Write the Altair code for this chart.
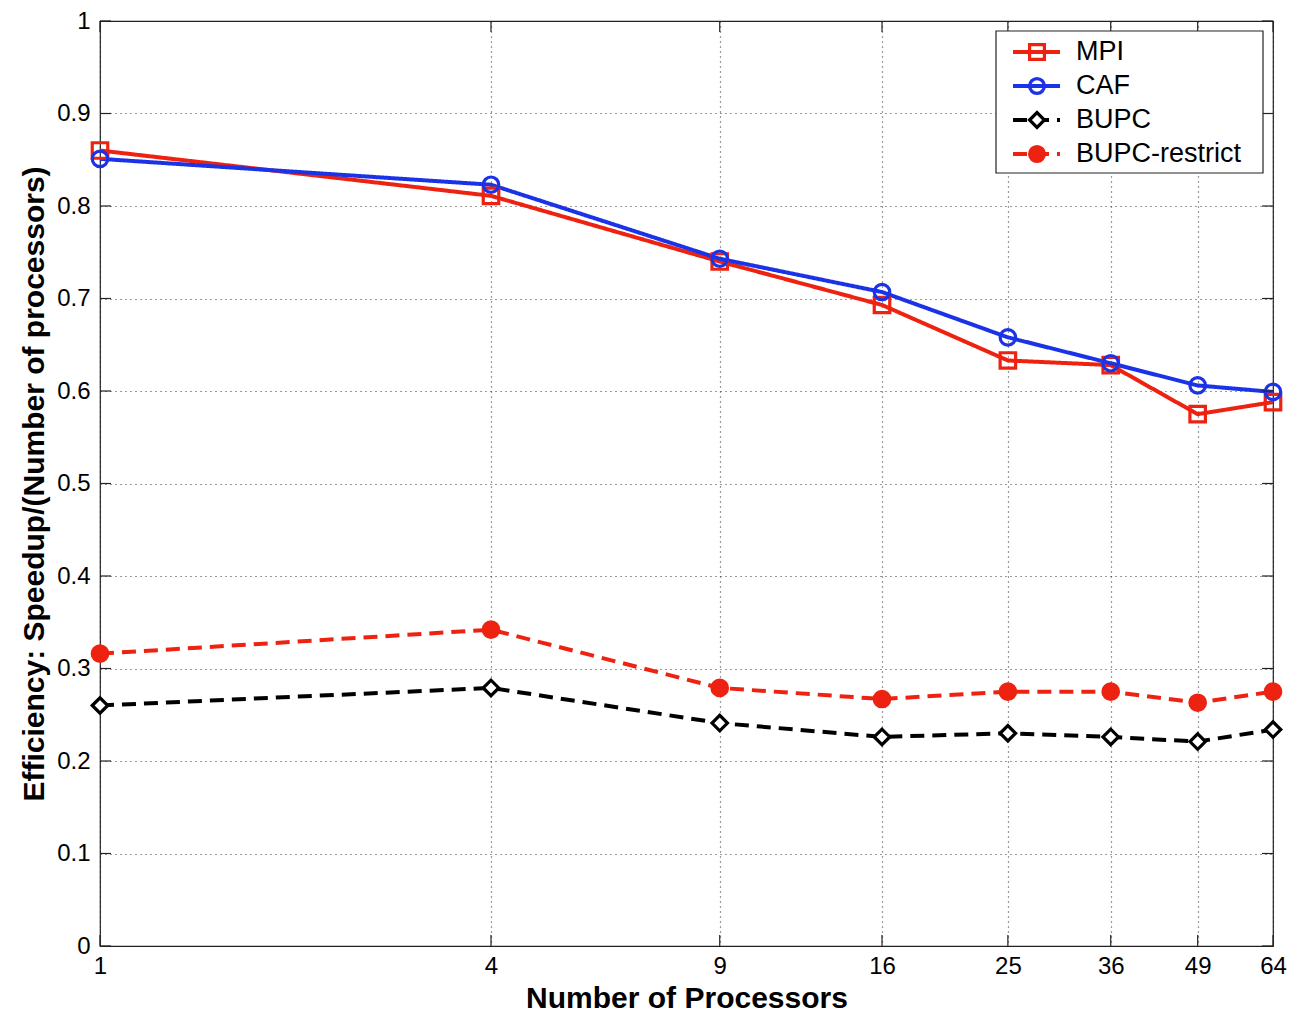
import altair as alt
import pandas as pd

# ---- data ----
procs = [1, 4, 9, 16, 25, 36, 49, 64]
mpi = [0.860, 0.811, 0.740, 0.693, 0.633, 0.628, 0.575, 0.588]
caf = [0.851, 0.823, 0.743, 0.707, 0.658, 0.630, 0.606, 0.599]
bupc = [0.260, 0.279, 0.241, 0.226, 0.230, 0.226, 0.221, 0.234]
bupc_restrict = [0.316, 0.342, 0.279, 0.267, 0.275, 0.275, 0.263, 0.275]

series_names = ["MPI", "CAF", "BUPC", "BUPC-restrict"]
series_values = [mpi, caf, bupc, bupc_restrict]

x_ticks = [1, 4, 9, 16, 25, 36, 49, 64]
y_ticks = [0.0, 0.1, 0.2, 0.3, 0.4, 0.5, 0.6, 0.7, 0.8, 0.9, 1.0]

x_title = "Number of Processors"
y_title = "Efficiency: Speedup/(Number of processors)"

# ---- styles ----
RED = "#ee2211"
BLUE = "#1a33e6"
BLACK = "#000000"
series_colors = [RED, BLUE, BLACK, RED]
series_dashes = [[1, 0], [1, 0], [14, 8], [14, 8]]
series_shapes = ["square", "circle", "diamond", "circle"]
series_fills = ["transparent", "transparent", "white", RED]
FONT = "Liberation Sans"

W, H = 1173, 925

rows = []
for name, vals in zip(series_names, series_values):
    for p, v in zip(procs, vals):
        rows.append({"procs": p, "eff": v, "series": name})
df = pd.DataFrame(rows)

xscale = alt.Scale(type="log", domain=[1, 64], nice=False)
yscale = alt.Scale(domain=[0, 1], nice=False)

xenc = alt.X(
    "procs:Q", scale=xscale,
    axis=alt.Axis(values=x_ticks, format="~g", title=x_title, grid=True,
                  ticks=False, domain=False, labelPadding=8, titlePadding=5,
                  labelFontSize=24, titleFontSize=30, titleFontWeight="bold",
                  labelFlush=False),
)
yenc = alt.Y(
    "eff:Q", scale=yscale,
    axis=alt.Axis(values=y_ticks, format="~g", title=y_title, grid=True,
                  ticks=False, domain=False, labelPadding=10, titlePadding=7,
                  labelFontSize=24, titleFontSize=30, titleFontWeight="bold",
                  labelFlush=False),
)

color = alt.Color("series:N", scale=alt.Scale(domain=series_names, range=series_colors), legend=None)

lines = alt.Chart(df).mark_line(strokeWidth=4).encode(
    x=xenc, y=yenc, color=color,
    strokeDash=alt.StrokeDash("series:N", scale=alt.Scale(domain=series_names, range=series_dashes), legend=None),
    detail="series:N",
)

points = alt.Chart(df).mark_point(filled=False, size=240, strokeWidth=3.2, opacity=1, fillOpacity=1).encode(
    x=alt.X("procs:Q", scale=xscale),
    y=alt.Y("eff:Q", scale=yscale),
    color=color,
    shape=alt.Shape("series:N", scale=alt.Scale(domain=series_names, range=series_shapes), legend=None),
    fill=alt.Fill("series:N", scale=alt.Scale(domain=series_names, range=series_fills), legend=None),
)

# inward tick marks on all four sides (MATLAB style)
xt = pd.DataFrame({"v": x_ticks})
yt = pd.DataFrame({"v": y_ticks})
TL = 11
tick_style = dict(color="#222", strokeWidth=1.2)
xt_bottom = alt.Chart(xt).mark_rule(**tick_style).encode(
    x=alt.X("v:Q", scale=xscale), y=alt.value(H - TL), y2=alt.value(H))
xt_top = alt.Chart(xt).mark_rule(**tick_style).encode(
    x=alt.X("v:Q", scale=xscale), y=alt.value(0), y2=alt.value(TL))
yt_left = alt.Chart(yt).mark_rule(**tick_style).encode(
    y=alt.Y("v:Q", scale=yscale), x=alt.value(0), x2=alt.value(TL))
yt_right = alt.Chart(yt).mark_rule(**tick_style).encode(
    y=alt.Y("v:Q", scale=yscale), x=alt.value(W - TL), x2=alt.value(W))

# ---- legend (drawn manually to show line + marker) ----
LX0, LX1, LY0, LY1 = 896, 1163, 10, 152
row_y = [31, 65, 99, 133]
seg_x0, seg_x1, mark_x, text_x = 913, 960, 937, 976

legend_layers = [
    alt.Chart(pd.DataFrame({"k": [0]})).mark_rect(fill="white", stroke="#222", strokeWidth=1.2).encode(
        x=alt.value(LX0), x2=alt.value(LX1), y=alt.value(LY0), y2=alt.value(LY1))
]
for i, name in enumerate(series_names):
    ldf = pd.DataFrame({"series": [name]})
    legend_layers.append(
        alt.Chart(ldf).mark_rule(strokeWidth=4, color=series_colors[i], strokeDash=series_dashes[i]).encode(
            x=alt.value(seg_x0), x2=alt.value(seg_x1), y=alt.value(row_y[i])))
    legend_layers.append(
        alt.Chart(ldf).mark_point(shape=series_shapes[i], size=220, strokeWidth=3.2, filled=False,
                                  stroke=series_colors[i], fill=series_fills[i], opacity=1, fillOpacity=1).encode(
            x=alt.value(mark_x), y=alt.value(row_y[i])))
    legend_layers.append(
        alt.Chart(ldf).mark_text(align="left", baseline="middle", fontSize=27, font=FONT, color="black").encode(
            x=alt.value(text_x), y=alt.value(row_y[i]), text="series:N"))

chart = alt.layer(
    lines, points, xt_bottom, xt_top, yt_left, yt_right, *legend_layers
).properties(
    width=W, height=H,
    autosize=alt.AutoSizeParams(type="none"),
    padding={"left": 92, "top": 13, "right": 14, "bottom": 70},
    background="white",
).configure_view(
    stroke="#222", strokeWidth=1.2
).configure_axis(
    labelFont=FONT, titleFont=FONT, labelColor="black", titleColor="black",
    gridColor="#222", gridDash=[1, 4], gridWidth=1.2, gridOpacity=0.9,
)

chart.save("out.html", embed_options={"renderer": "svg", "actions": False})
